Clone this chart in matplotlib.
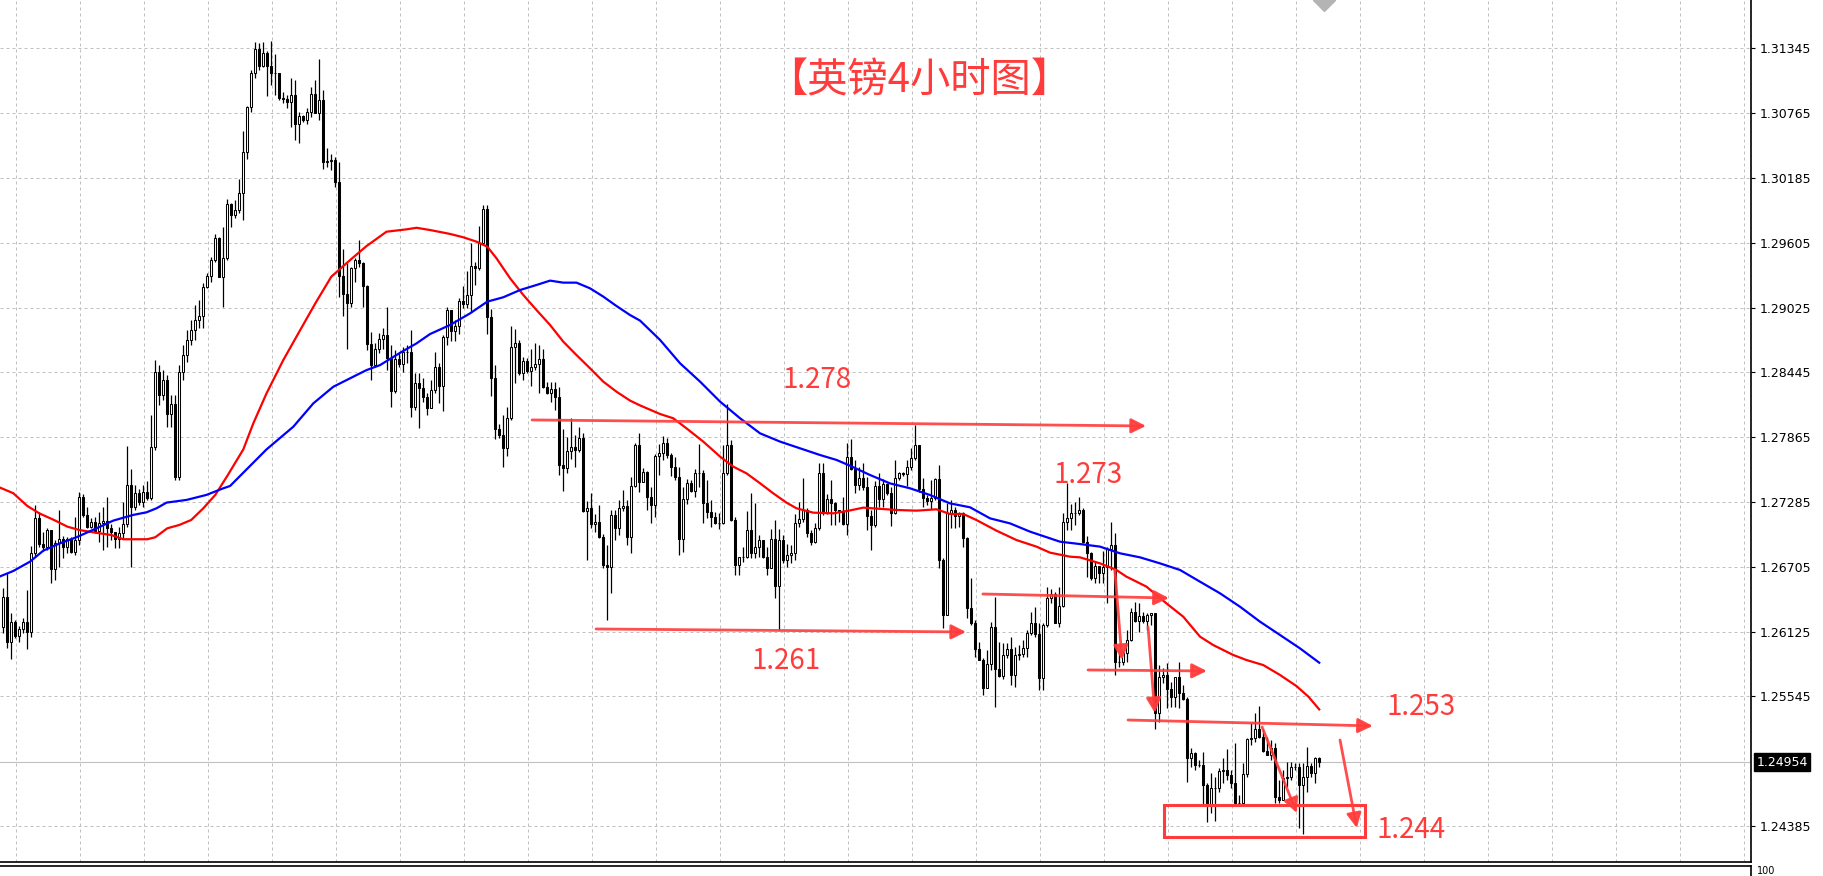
import numpy as np
import matplotlib.pyplot as plt
from matplotlib.patches import Rectangle
import matplotlib.transforms as mtrans

plt.rcParams['font.family'] = ['DejaVu Sans']

# ---- data (GBP 4H candles) ----
first_open = 1.26170
closes = [
    1.26432, 1.26036, 1.26209, 1.26086, 1.26146, 1.26215, 1.26119, 1.26826, 1.27140, 1.26910,
    1.26886, 1.27035, 1.26683, 1.26916, 1.26952, 1.26886, 1.26952, 1.26841, 1.26946, 1.27334,
    1.27170, 1.27065, 1.27110, 1.27029, 1.27095, 1.27119, 1.27050, 1.27020, 1.26952, 1.27011,
    1.27089, 1.27438, 1.27244, 1.27369, 1.27289, 1.27378, 1.27319, 1.27781, 1.28449, 1.28243,
    1.28378, 1.28073, 1.28163, 1.27509, 1.28449, 1.28601, 1.28736, 1.28825, 1.28915, 1.28951,
    1.29206, 1.29308, 1.29451, 1.29645, 1.29302, 1.29466, 1.29952, 1.29854, 1.29899, 1.30048,
    1.30415, 1.30818, 1.31122, 1.31337, 1.31191, 1.31301, 1.31191, 1.31122, 1.31122, 1.30898,
    1.30889, 1.30868, 1.30928, 1.30666, 1.30740, 1.30704, 1.30773, 1.30937, 1.30770, 1.30883,
    1.30331, 1.30337, 1.30346, 1.30152, 1.29308, 1.29147, 1.29069, 1.29382, 1.29451, 1.29421,
    1.29218, 1.28696, 1.28511, 1.28654, 1.28741, 1.28780, 1.28571, 1.28281, 1.28562, 1.28517,
    1.28630, 1.28630, 1.28139, 1.28348, 1.28303, 1.28228, 1.28130, 1.28288, 1.28491, 1.28327,
    1.28760, 1.29004, 1.28819, 1.28861, 1.29085, 1.29058, 1.29139, 1.29398, 1.29377, 1.29601,
    1.29905, 1.28939, 1.28392, 1.27936, 1.27885, 1.27772, 1.28034, 1.28670, 1.28706, 1.28443,
    1.28551, 1.28461, 1.28491, 1.28521, 1.28563, 1.28318, 1.28264, 1.28294, 1.28228, 1.27617,
    1.27587, 1.27745, 1.27781, 1.27751, 1.27855, 1.27205, 1.27229, 1.27086, 1.27109, 1.26975,
    1.26722, 1.26701, 1.27169, 1.27056, 1.27229, 1.27250, 1.26969, 1.27429, 1.27796, 1.27468,
    1.27557, 1.27333, 1.27259, 1.27698, 1.27721, 1.27811, 1.27706, 1.27596, 1.27513, 1.26952,
    1.27310, 1.27453, 1.27387, 1.27542, 1.27548, 1.27274, 1.27199, 1.27154, 1.27101, 1.27095,
    1.27542, 1.27793, 1.27125, 1.26722, 1.26790, 1.26796, 1.27035, 1.26832, 1.26886, 1.26946,
    1.26796, 1.26692, 1.26952, 1.26537, 1.26946, 1.26767, 1.26811, 1.26826, 1.27101, 1.27131,
    1.27214, 1.27005, 1.26931, 1.27050, 1.27548, 1.27184, 1.27310, 1.27279, 1.27214, 1.27199,
    1.27088, 1.27685, 1.27578, 1.27438, 1.27497, 1.27423, 1.27163, 1.27079, 1.27429, 1.27309,
    1.27444, 1.27363, 1.27184, 1.27497, 1.27542, 1.27536, 1.27602, 1.27676, 1.27796, 1.27399,
    1.27318, 1.27294, 1.27324, 1.27488, 1.26766, 1.26274, 1.27184, 1.27214, 1.27160, 1.27190,
    1.26960, 1.26333, 1.26205, 1.25966, 1.25871, 1.25617, 1.25835, 1.26169, 1.25787, 1.25728,
    1.25916, 1.25966, 1.25737, 1.25916, 1.25925, 1.25975, 1.26110, 1.26199, 1.26104, 1.25707,
    1.26184, 1.26423, 1.26462, 1.26205, 1.26354, 1.27109, 1.27139, 1.27184, 1.27184, 1.27214,
    1.26930, 1.26826, 1.26602, 1.26713, 1.26647, 1.26707, 1.26862, 1.26901, 1.25856, 1.25856,
    1.25931, 1.26050, 1.26304, 1.26223, 1.26265, 1.26223, 1.26274, 1.26289, 1.25394, 1.25722,
    1.25737, 1.25608, 1.25543, 1.25716, 1.25573, 1.25519, 1.24991, 1.25042, 1.24931, 1.24931,
    1.24752, 1.24573, 1.24722, 1.24722, 1.24880, 1.24886, 1.24842, 1.24767, 1.24588, 1.24588,
    1.24851, 1.25161, 1.25170, 1.25250, 1.25185, 1.25059, 1.25021, 1.25080, 1.24648, 1.24618,
    1.24812, 1.24827, 1.24910, 1.24910, 1.24752, 1.24827, 1.24922, 1.24857, 1.24991, 1.24954,
]
highs = [
    1.26513, 1.26647, 1.26289, 1.26230, 1.26176, 1.26245, 1.26498, 1.26895, 1.27259, 1.27199,
    1.27020, 1.27050, 1.27035, 1.26946, 1.27214, 1.26982, 1.26976, 1.26976, 1.27155, 1.27372,
    1.27358, 1.27244, 1.27140, 1.27155, 1.27199, 1.27244, 1.27328, 1.27089, 1.27020, 1.27059,
    1.27289, 1.27787, 1.27578, 1.27438, 1.27399, 1.27438, 1.27477, 1.28065, 1.28557, 1.28512,
    1.28467, 1.28422, 1.28243, 1.28243, 1.28512, 1.28691, 1.28825, 1.28915, 1.29049, 1.29094,
    1.29242, 1.29338, 1.29481, 1.29684, 1.29660, 1.29749, 1.29994, 1.29964, 1.29988, 1.30176,
    1.30606, 1.30830, 1.31152, 1.31406, 1.31391, 1.31400, 1.31322, 1.31412, 1.31295, 1.31128,
    1.30958, 1.30928, 1.31077, 1.31062, 1.30779, 1.30749, 1.30809, 1.30997, 1.31062, 1.31247,
    1.30973, 1.30451, 1.30397, 1.30376, 1.30331, 1.29547, 1.29421, 1.29391, 1.29466, 1.29630,
    1.29436, 1.29227, 1.28810, 1.28705, 1.28795, 1.28839, 1.29033, 1.28690, 1.28645, 1.28630,
    1.28675, 1.28690, 1.28825, 1.28443, 1.28437, 1.28392, 1.28258, 1.28378, 1.28625, 1.28527,
    1.28780, 1.29034, 1.28989, 1.28915, 1.29109, 1.29219, 1.29356, 1.29601, 1.29437, 1.29756,
    1.29944, 1.29944, 1.29010, 1.28512, 1.27984, 1.28064, 1.28133, 1.28861, 1.28831, 1.28736,
    1.28581, 1.28572, 1.28652, 1.28706, 1.28691, 1.28652, 1.28363, 1.28363, 1.28363, 1.28312,
    1.27936, 1.27870, 1.28034, 1.27885, 1.27960, 1.27900, 1.27297, 1.27363, 1.27178, 1.27259,
    1.26999, 1.26901, 1.27214, 1.27214, 1.27303, 1.27393, 1.27304, 1.27507, 1.27811, 1.27906,
    1.27587, 1.27566, 1.27423, 1.27715, 1.27805, 1.27877, 1.27856, 1.27721, 1.27692, 1.27602,
    1.27423, 1.27489, 1.27483, 1.27578, 1.27805, 1.27572, 1.27483, 1.27304, 1.27199, 1.27190,
    1.27796, 1.28163, 1.27841, 1.27154, 1.26796, 1.26886, 1.27208, 1.27363, 1.27274, 1.26990,
    1.26946, 1.26886, 1.27041, 1.27125, 1.27041, 1.26990, 1.26907, 1.26901, 1.27178, 1.27289,
    1.27498, 1.27229, 1.27035, 1.27095, 1.27638, 1.27632, 1.27357, 1.27482, 1.27288, 1.27214,
    1.27333, 1.27811, 1.27846, 1.27661, 1.27602, 1.27632, 1.27512, 1.27214, 1.27476, 1.27542,
    1.27488, 1.27452, 1.27423, 1.27661, 1.27557, 1.27557, 1.27661, 1.27766, 1.27975, 1.27796,
    1.27497, 1.27348, 1.27482, 1.27497, 1.27617, 1.26781, 1.27273, 1.27303, 1.27244, 1.27199,
    1.27199, 1.26975, 1.26602, 1.26229, 1.26035, 1.25886, 1.25960, 1.26214, 1.26438, 1.26035,
    1.26020, 1.26020, 1.26080, 1.25990, 1.26005, 1.26050, 1.26140, 1.26304, 1.26342, 1.26199,
    1.26199, 1.26527, 1.26504, 1.26483, 1.26527, 1.27184, 1.27453, 1.27268, 1.27288, 1.27333,
    1.27229, 1.26981, 1.26841, 1.26751, 1.26692, 1.26850, 1.26886, 1.27109, 1.27005, 1.25961,
    1.25961, 1.26140, 1.26334, 1.26393, 1.26378, 1.26304, 1.26295, 1.26295, 1.26259, 1.25826,
    1.25796, 1.25841, 1.25677, 1.25722, 1.25856, 1.25647, 1.25543, 1.25080, 1.25050, 1.24976,
    1.25050, 1.24767, 1.24857, 1.24827, 1.24901, 1.24991, 1.25071, 1.24886, 1.25125, 1.24663,
    1.24946, 1.25170, 1.25304, 1.25400, 1.25459, 1.25250, 1.25185, 1.25155, 1.25125, 1.24797,
    1.24886, 1.24961, 1.24961, 1.24952, 1.24946, 1.24946, 1.25095, 1.24946, 1.25006, 1.25006,
]
lows = [
    1.26110, 1.25976, 1.25877, 1.26065, 1.26036, 1.26110, 1.25967, 1.26080, 1.26797, 1.26886,
    1.26850, 1.26856, 1.26558, 1.26588, 1.26707, 1.26782, 1.26832, 1.26826, 1.26811, 1.26901,
    1.27149, 1.27050, 1.27050, 1.27005, 1.26931, 1.26856, 1.26886, 1.26946, 1.26871, 1.26871,
    1.26961, 1.27065, 1.26707, 1.27214, 1.27259, 1.27244, 1.27304, 1.27304, 1.27751, 1.28154,
    1.28199, 1.27957, 1.27957, 1.27483, 1.27483, 1.28378, 1.28539, 1.28691, 1.28736, 1.28843,
    1.28839, 1.29197, 1.29257, 1.29436, 1.29302, 1.29027, 1.29451, 1.29749, 1.29824, 1.29869,
    1.29809, 1.30352, 1.30779, 1.31077, 1.31152, 1.31182, 1.30922, 1.31018, 1.30928, 1.30883,
    1.30854, 1.30809, 1.30639, 1.30525, 1.30495, 1.30689, 1.30666, 1.30734, 1.30764, 1.30704,
    1.30263, 1.30287, 1.30257, 1.30108, 1.29123, 1.28950, 1.28651, 1.29027, 1.29257, 1.29391,
    1.29033, 1.28645, 1.28377, 1.28496, 1.28616, 1.28651, 1.28466, 1.28132, 1.28257, 1.28496,
    1.28451, 1.28526, 1.28049, 1.28109, 1.27951, 1.28184, 1.28064, 1.28124, 1.28258, 1.28175,
    1.28103, 1.28691, 1.28730, 1.28730, 1.28789, 1.29019, 1.29019, 1.28989, 1.29228, 1.29362,
    1.29595, 1.28789, 1.28234, 1.27846, 1.27855, 1.27602, 1.27697, 1.28020, 1.28354, 1.28422,
    1.28378, 1.28443, 1.28324, 1.28467, 1.28258, 1.28303, 1.28252, 1.28184, 1.28109, 1.27527,
    1.27387, 1.27542, 1.27667, 1.27602, 1.27736, 1.27199, 1.26766, 1.27050, 1.27020, 1.26960,
    1.26692, 1.26229, 1.26474, 1.26945, 1.26990, 1.27208, 1.26901, 1.26826, 1.27417, 1.27378,
    1.27468, 1.27214, 1.27101, 1.27154, 1.27527, 1.27662, 1.27677, 1.27518, 1.27483, 1.26811,
    1.26841, 1.27268, 1.27378, 1.27333, 1.27423, 1.27095, 1.27140, 1.27065, 1.27089, 1.27041,
    1.27089, 1.27527, 1.27119, 1.26632, 1.26632, 1.26752, 1.26781, 1.26781, 1.26781, 1.26796,
    1.26781, 1.26632, 1.26692, 1.26423, 1.26140, 1.26737, 1.26707, 1.26737, 1.26767, 1.27065,
    1.27110, 1.26969, 1.26901, 1.26916, 1.27035, 1.27169, 1.27178, 1.27079, 1.27079, 1.27109,
    1.27079, 1.26990, 1.27572, 1.27363, 1.27393, 1.27393, 1.27035, 1.26856, 1.27065, 1.27244,
    1.27238, 1.27348, 1.27071, 1.27178, 1.27482, 1.27518, 1.27429, 1.27572, 1.27661, 1.27378,
    1.27244, 1.27259, 1.27220, 1.27303, 1.26692, 1.26154, 1.26274, 1.27050, 1.27050, 1.27065,
    1.26886, 1.26244, 1.26184, 1.25901, 1.25871, 1.25558, 1.25617, 1.25781, 1.25453, 1.25722,
    1.25698, 1.25886, 1.25647, 1.25632, 1.25871, 1.25901, 1.25895, 1.26095, 1.26080, 1.25602,
    1.25602, 1.26169, 1.26378, 1.26199, 1.26169, 1.26348, 1.27035, 1.27035, 1.27080, 1.27169,
    1.26915, 1.26617, 1.26587, 1.26557, 1.26557, 1.26557, 1.26378, 1.26677, 1.25737, 1.25811,
    1.25826, 1.25856, 1.26044, 1.26214, 1.26125, 1.26205, 1.26140, 1.26184, 1.25250, 1.25319,
    1.25662, 1.25438, 1.25453, 1.25453, 1.25438, 1.25513, 1.24782, 1.24916, 1.24886, 1.24916,
    1.24564, 1.24424, 1.24498, 1.24433, 1.24692, 1.24767, 1.24797, 1.24722, 1.24564, 1.24564,
    1.24573, 1.24827, 1.25110, 1.25140, 1.25170, 1.25050, 1.25021, 1.24976, 1.24594, 1.24594,
    1.24618, 1.24737, 1.24797, 1.24886, 1.24364, 1.24314, 1.24692, 1.24827, 1.24767, 1.24916,
]

# moving averages (bar index, price)
ma_red_x = [-1, 2.5, 6, 9, 13, 16, 19, 23, 27, 30, 36, 38, 41, 44, 47, 50, 53, 56, 60, 62.5,
            65.8, 70, 74, 78, 82, 86.7, 90.8, 95.8, 100.8, 103.3, 106.7, 111.7, 115, 118.3, 121,
            123.3, 126.7, 130, 133.3, 136.7, 140, 143.3, 146.7, 150, 153.3, 156.7, 159.2, 164.2,
            167.5, 170.8, 175, 179.2, 182.5, 185.8, 189.2, 192.5, 195.8, 198.3, 202.5, 207.5,
            211.7, 215, 223.3, 228.3, 233.3, 236.7, 240, 243.3, 248.3, 253.3, 258.3, 261.7,
            266.7, 269.2, 274.2, 278.3, 280.8, 285.8, 290.8, 295, 299.2, 302.5, 307.5, 310.8,
            315, 319.2, 323.3, 326.3, 329]
ma_red = [1.27417, 1.27364, 1.27250, 1.27184, 1.27119, 1.27065, 1.27035, 1.27011, 1.26990, 1.26952,
          1.26952, 1.26970, 1.27050, 1.27080, 1.27125, 1.27229, 1.27349, 1.27519, 1.27756, 1.27989,
          1.28257, 1.28556, 1.28810, 1.29063, 1.29302, 1.29451, 1.29576, 1.29705, 1.29726, 1.29740,
          1.29720, 1.29685, 1.29655, 1.29616, 1.29571, 1.29467, 1.29288, 1.29139, 1.29004, 1.28870,
          1.28721, 1.28601, 1.28482, 1.28363, 1.28273, 1.28193, 1.28150, 1.28073, 1.28035, 1.27945,
          1.27826, 1.27692, 1.27602, 1.27542, 1.27453, 1.27363, 1.27280, 1.27229, 1.27190, 1.27184,
          1.27210, 1.27235, 1.27214, 1.27208, 1.27220, 1.27178, 1.27178, 1.27124, 1.27029, 1.26945,
          1.26886, 1.26832, 1.26796, 1.26790, 1.26736, 1.26677, 1.26617, 1.26528, 1.26378, 1.26259,
          1.26080, 1.26005, 1.25916, 1.25871, 1.25826, 1.25737, 1.25638, 1.25543, 1.25429]
ma_blue_x = [-1, 2.5, 6.7, 10, 14.2, 18.3, 23.3, 27.5, 32.5, 35.8, 38.3, 40.8, 45.8, 50.8, 55,
             56.7, 65.8, 72.5, 77.5, 82.5, 87.5, 90.8, 94.2, 99.2, 103.3, 106.7, 111.7, 116.7, 121,
             125, 129.2, 133.3, 136.7, 140, 143.3, 146.7, 150, 153.3, 156.7, 159.2, 164.2, 169.2,
             174.2, 179.2, 184.2, 189.2, 194.2, 199.2, 204.2, 208.3, 211.7, 216.7, 221.7, 226.7,
             231.7, 236.7, 241.7, 246.7, 251.7, 256.7, 261.7, 264.2, 269.2, 274.2, 279.2, 284.2,
             289.2, 294.2, 299.2, 304.2, 309.2, 314.2, 319.2, 324.2, 329]
ma_blue = [1.26617, 1.26668, 1.26752, 1.26850, 1.26916, 1.26970, 1.27050, 1.27119, 1.27170, 1.27193,
           1.27229, 1.27280, 1.27304, 1.27349, 1.27408, 1.27429, 1.27756, 1.27959, 1.28168, 1.28317,
           1.28407, 1.28466, 1.28511, 1.28621, 1.28705, 1.28789, 1.28870, 1.28974, 1.29079, 1.29118,
           1.29183, 1.29228, 1.29267, 1.29249, 1.29249, 1.29198, 1.29124, 1.29040, 1.28959, 1.28909,
           1.28736, 1.28527, 1.28363, 1.28184, 1.28035, 1.27900, 1.27826, 1.27766, 1.27706, 1.27662,
           1.27610, 1.27527, 1.27452, 1.27408, 1.27348, 1.27273, 1.27238, 1.27139, 1.27094, 1.27020,
           1.26960, 1.26930, 1.26909, 1.26886, 1.26826, 1.26790, 1.26736, 1.26677, 1.26572, 1.26468,
           1.26348, 1.26214, 1.26095, 1.25975, 1.25847]

ytick_vals = [1.24385, 1.25545, 1.26125, 1.26705, 1.27285, 1.27865, 1.28445,
              1.29025, 1.29605, 1.30185, 1.30765, 1.31345]
last_price = 1.24954

RED = '#ff3b3b'
CJK = ['Noto Sans CJK SC', 'DejaVu Sans']

# ---- figure ----
W, H = 1824, 876
fig = plt.figure(figsize=(W / 100, H / 100), dpi=100)
ax = fig.add_axes([0, 1 - 862 / H, 1751 / W, 862 / H])
ax2 = fig.add_axes([0, 0, 1751 / W, 10 / H])

closes = np.array(closes)
opens = np.concatenate([[first_open], closes[:-1]])
highs = np.maximum(np.array(highs), np.maximum(opens, closes))
lows = np.minimum(np.array(lows), np.minimum(opens, closes))
x = np.arange(len(closes))
up = closes >= opens

ax.vlines(x, lows, highs, color='black', lw=0.9, zorder=3)
bottoms = np.minimum(opens, closes)
heights = np.abs(closes - opens)
ax.bar(x[up], heights[up], bottom=bottoms[up], width=0.55, color='white',
       edgecolor='black', linewidth=0.75, zorder=4)
ax.bar(x[~up], heights[~up], bottom=bottoms[~up], width=0.55, color='black',
       edgecolor='black', linewidth=0.75, zorder=4)

ax.plot(ma_red_x, ma_red, color='#ff0000', lw=1.6, zorder=5)
ax.plot(ma_blue_x, ma_blue, color='#0000ff', lw=1.6, zorder=5)

# current price line
ax.axhline(last_price, color='#c0c0c0', lw=0.8, zorder=1)

ax.set_xlim(-0.825, 436.95)
ax.set_ylim(1.24063, 1.31779)
ax.set_xticks(np.arange(3.1, 437, 16))
ax.set_yticks(ytick_vals)
ax.set_yticklabels([f'{v:.5f}' for v in ytick_vals])
ax.yaxis.tick_right()
ax.tick_params(axis='y', length=3, width=0.8, pad=3, labelsize=9, colors='black')
ax.tick_params(axis='x', length=0, labelbottom=False)
ax.grid(True, ls=(0, (3, 3)), color='#c0c0c0', lw=0.72, zorder=0)
for s in ['left', 'top']:
    ax.spines[s].set_visible(False)
ax.spines['right'].set_linewidth(1.2)
ax.spines['bottom'].set_linewidth(1.2)

# price box on the right scale
trans = mtrans.blended_transform_factory(ax.transAxes, ax.transData)
ax.text(1.003, last_price, '1.24954', transform=trans, color='white', fontsize=9,
        va='center', ha='left', zorder=10,
        bbox=dict(boxstyle='square,pad=0.2', fc='black', ec='black'))

# chart shift marker at the top
ax.plot([330.2], [1.31779], marker='D', ms=11, color='#b4b4b4', clip_on=True, zorder=6)

# lower indicator strip
ax2.set_xlim(0, 1)
ax2.set_xticks([])
ax2.set_yticks([])
for s in ['left', 'bottom']:
    ax2.spines[s].set_visible(False)
ax2.spines['top'].set_linewidth(1.2)
ax2.spines['right'].set_linewidth(1.2)
fig.text(1757 / W, 1 - 866 / H, '100', fontsize=7, va='top', ha='left')


# ---- red annotations ----
def arrow(x0, y0, x1, y1):
    ax.annotate('', xy=(x1, y1), xytext=(x0, y0), zorder=8,
                arrowprops=dict(arrowstyle='-|>', color=RED, lw=2.0, alpha=0.9,
                                mutation_scale=22, shrinkA=0, shrinkB=0))


def label(xv, yv, s, size=20):
    ax.text(xv, yv, s, color=RED, fontsize=size, family=CJK, ha='center', va='center',
            zorder=9)


label(228.9, 1.31054, '【英镑4小时图】', size=29)
label(203.4, 1.28378, '1.278')
arrow(132.2, 1.28020, 285.7, 1.27966)
label(195.7, 1.25862, '1.261')
arrow(148.2, 1.26149, 240.7, 1.26122)
label(271.2, 1.27527, '1.273')
arrow(244.9, 1.26462, 291.4, 1.26426)
arrow(271.2, 1.25782, 300.9, 1.25773)
arrow(281.2, 1.25334, 342.4, 1.25281)
label(354.4, 1.25451, '1.253')
arrow(277.9, 1.26677, 279.7, 1.25871)
arrow(286.2, 1.26167, 287.9, 1.25397)
arrow(314.7, 1.25272, 323.4, 1.24502)
arrow(334.2, 1.25155, 338.4, 1.24367)
ax.add_patch(Rectangle((290.2, 1.24287), 340.4 - 290.2, 1.24573 - 1.24287, fill=False,
                       ec=RED, lw=2.2, zorder=8))
label(351.9, 1.24350, '1.244')

fig.savefig('out.png', dpi=100)
